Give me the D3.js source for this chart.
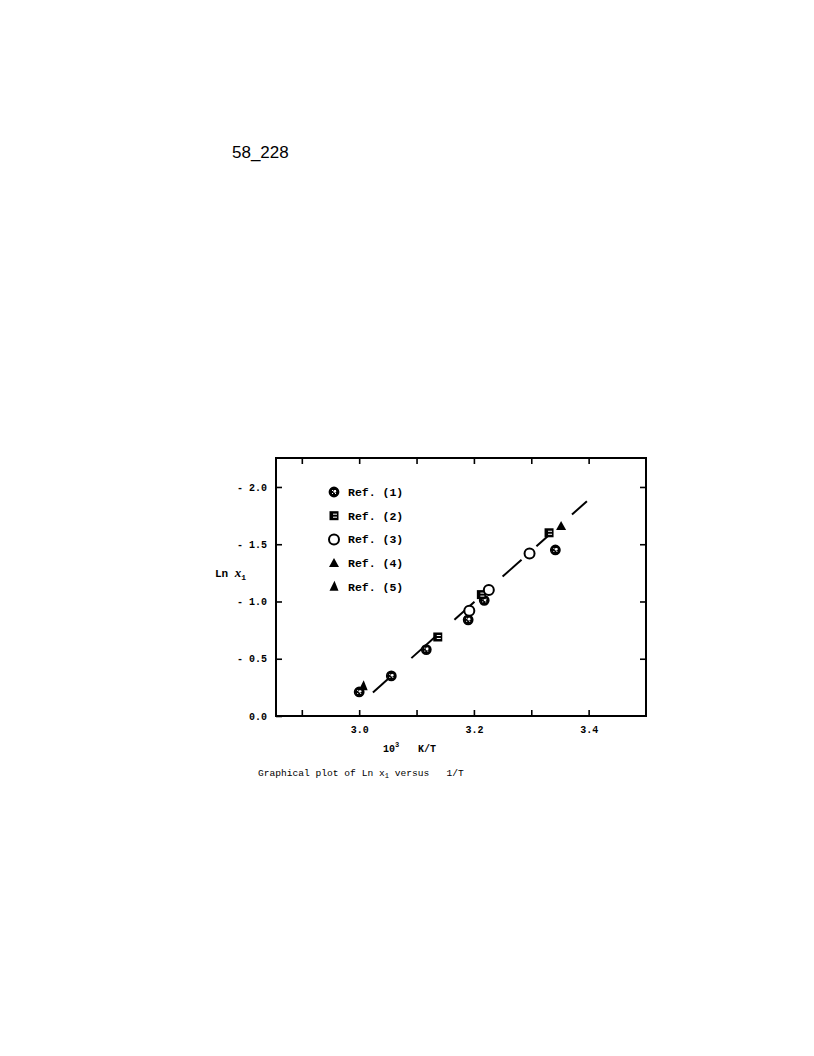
<!DOCTYPE html>
<html><head><meta charset="utf-8">
<script src="https://cdn.jsdelivr.net/npm/d3@7"></script>
<style>body{margin:0;background:#fff}svg{display:block}</style>
</head><body>
<script>
// ---- data ----
const ref1 = [[3.000,0.21],[3.056,0.35],[3.117,0.58],[3.190,0.84],[3.218,1.01],[3.342,1.45]];
const ref2 = [[3.137,0.69],[3.213,1.06],[3.331,1.60]];
const ref3 = [[3.192,0.92],[3.226,1.10],[3.297,1.42]];
const ref4 = [[3.352,1.66]];
const ref5 = [[3.007,0.26]];
const legendLabels = ["Ref. (1)","Ref. (2)","Ref. (3)","Ref. (4)","Ref. (5)"];
const fitLine = {x0:3.021, y0:0.192, x1:3.398, y1:1.880};
const fitDashes = [[3.024,3.058],[3.091,3.137],[3.166,3.201],[3.250,3.283],[3.309,3.337],[3.371,3.397]];
const xTicks = [2.9,3.0,3.1,3.2,3.3,3.4];
const xTickLabels = {"3":"3.0","3.2":"3.2","3.4":"3.4"};
const yTicks = [0,0.5,1.0,1.5,2.0];
const yTickLabels = ["0.0","- 0.5","- 1.0","- 1.5","- 2.0"];

const W=814,H=1056;
const svg=d3.select("body").append("svg").attr("width",W).attr("height",H);
svg.append("rect").attr("width",W).attr("height",H).attr("fill","#fff");

const defs=svg.append("defs");
const pat=defs.append("pattern").attr("id","hatch").attr("patternUnits","userSpaceOnUse").attr("width",3).attr("height",3);
pat.append("rect").attr("width",3).attr("height",3).attr("fill","#000");
pat.append("rect").attr("x",1).attr("y",1).attr("width",1).attr("height",1).attr("fill","#fff");

const x=d3.scaleLinear().domain([2.855,3.5]).range([276,646]);
const y=d3.scaleLinear().domain([0,2.253]).range([716,458]);

const mono="'Liberation Mono', 'DejaVu Sans Mono', monospace";

// header id
svg.append("text").attr("x",232).attr("y",158).attr("font-family","'Liberation Sans', Arial, sans-serif")
  .attr("font-size",17).attr("fill","#000").text("58_228");

// frame
svg.append("rect").attr("x",x.range()[0]).attr("y",y.range()[1])
  .attr("width",x.range()[1]-x.range()[0]).attr("height",y.range()[0]-y.range()[1])
  .attr("fill","none").attr("stroke","#000").attr("stroke-width",2);

function styleAxis(g){
  g.select(".domain").remove();
  g.selectAll(".tick line").attr("stroke","#000").attr("stroke-width",1.6);
  g.selectAll(".tick text").attr("font-family",mono).attr("font-weight","bold").attr("font-size",10).attr("fill","#000");
}
svg.append("g").attr("transform",`translate(0,${y.range()[0]})`)
  .call(d3.axisBottom(x).tickValues(xTicks).tickSize(-6).tickPadding(10)
    .tickFormat(d=>xTickLabels[String(+d.toFixed(1))]||""))
  .call(styleAxis);
svg.append("g").attr("transform",`translate(0,${y.range()[1]})`)
  .call(d3.axisTop(x).tickValues(xTicks).tickSize(-6).tickFormat(""))
  .call(styleAxis);
svg.append("g").attr("transform",`translate(${x.range()[0]},0)`)
  .call(d3.axisLeft(y).tickValues(yTicks).tickSize(-6).tickPadding(9).tickFormat((d,i)=>yTickLabels[i]))
  .call(styleAxis);
svg.append("g").attr("transform",`translate(${x.range()[1]},0)`)
  .call(d3.axisRight(y).tickValues(yTicks.slice(1)).tickSize(-6).tickFormat(""))
  .call(styleAxis);

// fitted dashed line (hand-drawn dashes)
const slope=(fitLine.y1-fitLine.y0)/(fitLine.x1-fitLine.x0);
const fy=v=>fitLine.y0+slope*(v-fitLine.x0);
svg.append("g").selectAll("line").data(fitDashes).join("line")
  .attr("x1",d=>x(d[0])).attr("y1",d=>y(fy(d[0])))
  .attr("x2",d=>x(d[1])).attr("y2",d=>y(fy(d[1])))
  .attr("stroke","#000").attr("stroke-width",2);

// marker drawers
function mk1(g){ g.append("circle").attr("r",4.6).attr("fill","url(#hatch)").attr("stroke","#000").attr("stroke-width",1.6);
  g.append("circle").attr("r",1.4).attr("cx",0.8).attr("cy",-0.6).attr("fill","#fff"); }
function mk2(g){ g.append("rect").attr("x",-4.5).attr("y",-4.5).attr("width",9).attr("height",9).attr("fill","#000");
  g.append("line").attr("x1",-1).attr("x2",3).attr("y1",-1.5).attr("y2",-1.5).attr("stroke","#fff").attr("stroke-width",1);
  g.append("line").attr("x1",-1).attr("x2",3).attr("y1",1.5).attr("y2",1.5).attr("stroke","#fff").attr("stroke-width",1); }
function mk3(g){ g.append("circle").attr("r",5).attr("fill","#fff").attr("stroke","#000").attr("stroke-width",2); }
function mk4(g){ g.append("path").attr("d","M0,-5L5,4L-5,4Z").attr("fill","#000"); }
function mk5(g){ g.append("path").attr("d","M0.5,-6L4.5,4L-4.5,4Z").attr("fill","#000"); }
const series=[{d:ref1,m:mk1},{d:ref2,m:mk2},{d:ref3,m:mk3},{d:ref4,m:mk4},{d:ref5,m:mk5}];

series.forEach(s=>{
  svg.append("g").selectAll("g").data(s.d).join("g")
    .attr("transform",d=>`translate(${x(d[0])},${y(d[1])})`)
    .each(function(){ s.m(d3.select(this)); });
});

// legend
const lg=svg.append("g");
legendLabels.forEach((t,i)=>{
  const yy=492+i*23.7;
  const g=lg.append("g").attr("transform",`translate(334,${yy})`);
  series[i].m(g);
  lg.append("text").attr("x",348).attr("y",yy+4).attr("font-family",mono).attr("font-size",11.5)
    .attr("font-weight","bold").attr("fill","#000").text(t);
});

// y label
const yl=svg.append("text").attr("x",215).attr("y",577).attr("font-family",mono).attr("font-weight","bold").attr("font-size",11).attr("fill","#000");
yl.append("tspan").text("Ln ");
yl.append("tspan").attr("font-family","'Liberation Serif', serif").attr("font-style","italic").attr("font-size",13).text("x");
yl.append("tspan").attr("font-size",8).attr("dy",3).text("1");

// x label
const xl=svg.append("text").attr("x",383).attr("y",752).attr("font-family",mono).attr("font-weight","bold").attr("font-size",10).attr("fill","#000");
xl.append("tspan").text("10");
xl.append("tspan").attr("font-size",7).attr("dy",-5).text("3");
svg.append("text").attr("x",418).attr("y",752).attr("font-family",mono).attr("font-weight","bold").attr("font-size",10).attr("fill","#000").text("K/T");

// caption
const cap=svg.append("text").attr("x",258).attr("y",776).attr("font-family",mono).attr("font-size",9.6).attr("fill","#000")
  .attr("xml:space","preserve").style("white-space","pre");
cap.append("tspan").text("Graphical plot of Ln x");
cap.append("tspan").attr("font-size",7).attr("dy",2).text("1");
cap.append("tspan").attr("dy",-2).text(" versus   1/T");
</script>
</body></html>
